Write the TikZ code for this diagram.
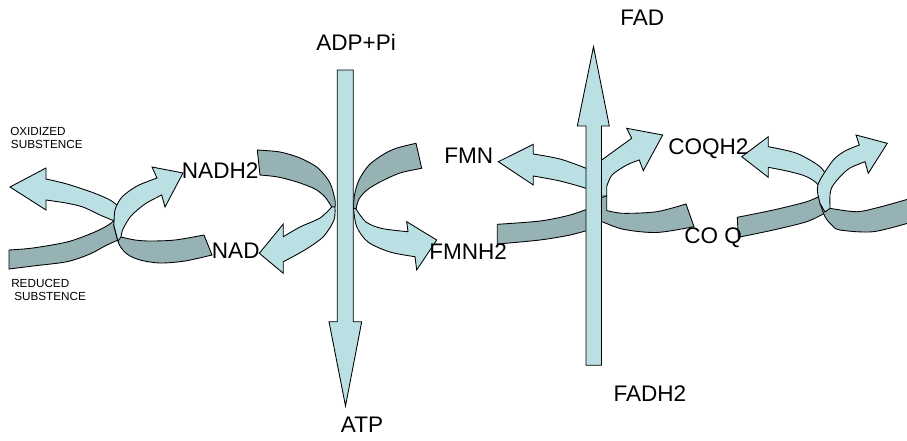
\documentclass[tikz,border=0pt]{standalone}
\usepackage{fontspec}
\setmainfont{Liberation Sans}
\definecolor{ribbonlight}{RGB}{187,224,227}
\definecolor{ribbondark}{RGB}{150,178,181}
\begin{document}
\begin{tikzpicture}[x=0.75pt,y=-0.75pt,
  front/.style={fill=ribbonlight,draw=black,line width=0.65pt,line join=miter},
  back/.style={fill=ribbondark,draw=black,line width=0.65pt,line join=miter},
  biglabel/.style={font=\fontsize{16.9}{18}\selectfont,inner sep=0pt,anchor=base west},
  smalllabel/.style={font=\fontsize{8.8}{10}\selectfont,inner sep=0pt,anchor=base west}]
\useasboundingbox (0,0) rectangle (907,440);
\clip (0,0) rectangle (907,440);

% ---- left pair: reduced/oxidized substance <-> NADH2/NAD
\path[front] (10,187) -- (46,168) -- (46,179)
  -- plot[smooth] coordinates {(46,179) (67,184) (94,193) (110,200) (118,206)}
  -- (117,222)
  -- plot[smooth] coordinates {(117,222) (100,215) (83,207) (66,203) (46,200)}
  -- (46,210) -- cycle;
\path[back] plot[smooth] coordinates {(9,250) (33,248) (67,242) (90,234) (105,227) (114,221)}
  -- (118,240)
  -- plot[smooth] coordinates {(118,240) (105,246) (90,254) (67,261.7) (33,266) (9,269)}
  -- cycle;
\path[back] plot[smooth] coordinates {(121,237) (135,240) (150,241) (175,240) (204,235)}
  -- (212,255)
  -- plot[smooth] coordinates {(212,255) (185,261) (160,263) (140,260) (127,254) (119,244) (114,226)}
  -- cycle;
\path[front] plot[smooth] coordinates {(114,226) (115,210) (122,197) (137,186) (157,178)}
  -- (152,167) -- (183,173) -- (165,207) -- (161.7,195)
  -- plot[smooth] coordinates {(161.7,195) (145,204) (131,216) (123,229) (121,237)}
  -- (118,241) -- cycle;

% ---- NADH2 -> NAD
\path[back] plot[smooth] coordinates {(257.3,150) (280,152) (300,158) (318,168) (330,183) (335,200) (335,207)}
  -- (331.7,207)
  -- plot[smooth] coordinates {(331.7,207) (325,197) (315,189) (297,182) (278,177) (260,175)}
  -- cycle;
\path[front] plot[smooth] coordinates {(335,207) (334,220) (324,236) (310,246.7) (296,255) (283.3,261.7)}
  -- (283.3,273.3) -- (259.3,253.3) -- (283.3,224) -- (283.3,236.7)
  -- plot[smooth] coordinates {(283.3,236.7) (300,227) (320,218) (331.7,207)}
  -- cycle;

% ---- FMN -> FMNH2
\path[back] plot[smooth] coordinates {(416,143.3) (397,148) (384,154) (369,165) (359,180) (354.5,195) (353.5,208)}
  -- (356,209)
  -- plot[smooth] coordinates {(356,209) (359,199) (367,190) (380,182) (400,173) (421.7,168.3)}
  -- cycle;
\path[front] plot[smooth] coordinates {(353.5,208) (356.7,226.7) (368,242) (390,252) (415,256.7)}
  -- (416.7,270) -- (436.7,240) -- (406.7,221.7) -- (408,231.7)
  -- plot[smooth] coordinates {(408,231.7) (382,228.5) (366,222) (356,209)}
  -- cycle;

% ---- FMNH2/FMN <-> CO Q/COQH2 pair
\path[front] (498.3,161.7) -- (533.3,144.3) -- (533.3,154)
  -- plot[smooth] coordinates {(533.3,154) (560,159) (586,168.3) (596,174)}
  -- (596,193)
  -- plot[smooth] coordinates {(596,193) (586,188.3) (560,181) (533.3,176)}
  -- (533.3,185) -- cycle;
\path[back] plot[smooth] coordinates {(497.3,224.3) (540,221) (570,215) (596,206)}
  -- (596,228)
  -- plot[smooth] coordinates {(596,228) (570,235) (540,240) (497.3,244)}
  -- cycle;
\path[back] (594,200) -- (606.7,196)
  -- plot[smooth] coordinates {(606.7,210.5) (623.3,213.3) (656.7,211.7) (686,204)}
  -- (694,226.7)
  -- plot[smooth] coordinates {(694,226.7) (656.7,232.5) (623.3,229.3) (601.7,221.5) (594,218)}
  -- cycle;
\path[front] plot[smooth] coordinates {(594,165) (601.7,160) (620,146.7) (631.7,138.3)}
  -- (626.7,128.3) -- (662.7,135) -- (643.3,170.7) -- (639.3,160)
  -- plot[smooth] coordinates {(639.3,160) (626.7,165) (612,175) (606.7,186.7)}
  -- (606.7,196) -- (594,196) -- cycle;

% ---- right pair
\path[front] (741.7,156.7) -- (768.3,136.7) -- (768.3,146.7)
  -- plot[smooth] coordinates {(768.3,146.7) (796.7,153.3) (820,166.7) (829,180)}
  -- (824,200)
  -- plot[smooth] coordinates {(824,200) (818.3,185) (806.7,176.7) (790,171.7) (768.3,167.3)}
  -- (768.3,177.3) -- cycle;
\path[back] plot[smooth] coordinates {(737.3,217.3) (773.3,210) (806.7,201.7) (821.7,195)}
  -- (825,213)
  -- plot[smooth] coordinates {(825,213) (806.7,221.7) (773.3,230) (738.3,237.3)}
  -- cycle;
\path[back] plot[smooth] coordinates {(830,208.3) (856.7,211.7) (880,207) (912,198)}
  -- (912,222)
  -- plot[smooth] coordinates {(912,222) (873.3,231.7) (840,230) (831.7,225) (825,216.7) (820,203.3)}
  -- cycle;
\path[front] plot[smooth] coordinates {(820,203.3) (817.3,190) (820,180) (833.3,160) (845,151) (859.3,145)}
  -- (856,135) -- (887.3,143.3) -- (868.3,173.3) -- (865,161.7)
  -- plot[smooth] coordinates {(865,161.7) (850,168) (840,176.7) (832,187) (830,195) (830,208.3)}
  -- (825,212) -- cycle;

% ---- straight arrows: ADP+Pi -> ATP, FADH2 -> FAD
\path[front] (337.3,70) -- (353.3,70) -- (353.3,321.7) -- (361.7,321.7)
  -- (345.5,406) -- (329,321.7) -- (337.3,321.7) -- cycle;
\path[front] (593.5,46.7) -- (609.3,126) -- (601.5,126) -- (601.5,365.3)
  -- (586,365.3) -- (586,126) -- (577.3,126) -- cycle;

% ---- labels
\node[smalllabel] (oxa) at (10,135) {OXIDIZED};
\node[smalllabel] (oxb) at (10.7,148.7) {SUBSTENCE};
\node[smalllabel] (rda) at (11,287.3) {REDUCED};
\node[smalllabel] (rdb) at (14,300) {SUBSTENCE};
\node[biglabel] (nadh) at (181.7,178.3) {NADH2};
\node[biglabel] (nad) at (211.7,258) {NAD};
\node[biglabel] (fmnh) at (429,259) {FMNH2};
\node[biglabel] (fmn) at (444,163.3) {FMN};
\node[biglabel] (coqh) at (668,154) {COQH2};
\node[biglabel] (coq) at (684,243.3) {CO Q};
\node[biglabel] (adp) at (316,50) {ADP+Pi};
\node[biglabel] (atp) at (340.7,432.7) {ATP};
\node[biglabel] (fad) at (620,25) {FAD};
\node[biglabel] (fadh) at (613.3,401) {FADH2};
\end{tikzpicture}
\end{document}
